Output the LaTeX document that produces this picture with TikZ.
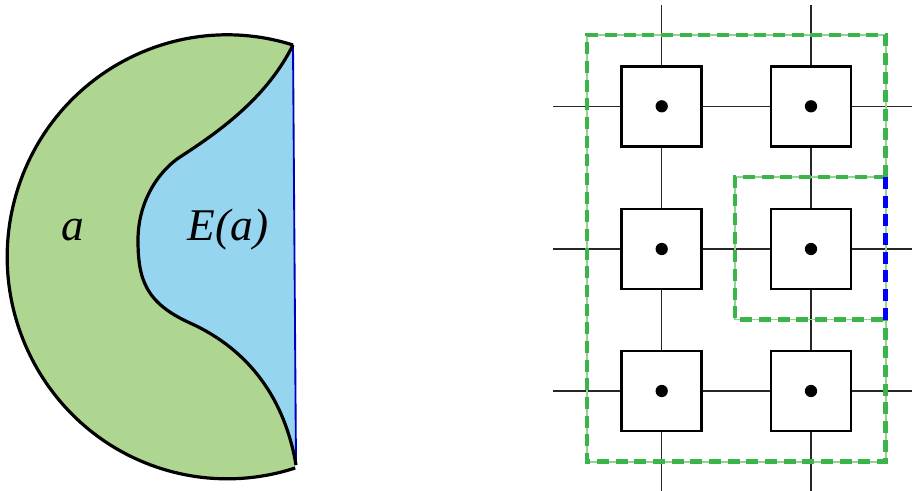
\documentclass[tikz,border=0pt]{standalone}
\usepackage{fontspec}
\setmainfont{Liberation Serif}
\definecolor{regiongreen}{RGB}{174,214,144}
\definecolor{regionblue}{RGB}{149,213,239}
\definecolor{dashgreen}{RGB}{59,181,74}
\definecolor{lightgreen}{RGB}{150,210,150}
\definecolor{chordblue}{RGB}{0,0,190}
\definecolor{dashblue}{RGB}{0,0,255}
\tikzset{
  cell/.style={draw=black, line width=2pt, fill=white, minimum size=60pt, inner sep=0pt},
  gridline/.style={draw=black!85, line width=0.9pt},
  dotmark/.style={fill=black},
  outline/.style={draw=black, line width=2.4pt},
  zonebase/.style={draw=lightgreen, line width=1.2pt},
  zonedash/.style={draw=dashgreen, line width=3.4pt, dash pattern=on 9pt off 5pt},
  bluedash/.style={draw=dashblue, line width=3.4pt, dash pattern=on 9pt off 5pt},
  lbl/.style={font=\fontsize{34}{40}\selectfont\itshape, inner sep=0pt}
}
\begin{document}
\begin{tikzpicture}[x=0.75pt,y=-0.75pt]
\useasboundingbox (0,0) rectangle (912,491);

% ---------- left figure ----------
\coordinate (T) at (293,45);
\coordinate (B) at (296,465);
\def\innercurve{(T) .. controls (268,95) and (225,128) .. (180,157)
  .. controls (160,170) and (138,200) .. (138,240)
  .. controls (138,280) and (146,303) .. (190,323)
  .. controls (250,350) and (285,400) .. (B)}
% green disc segment
\fill[regiongreen] (T) arc[start angle=-72.6, end angle=-288, x radius=220, y radius=222] -- cycle;
% blue region
\fill[regionblue] \innercurve -- cycle;
% outlines
\draw[chordblue, line width=1.4pt] (T) -- (B);
\draw[outline] (T) arc[start angle=-72.6, end angle=-288, x radius=220, y radius=222];
\draw[outline] \innercurve;

\node[lbl] (la) at (73,230) {a};
\node[lbl] (lea) at (228,230) {E(a)};

% ---------- right figure ----------
\node[cell] (c11) at (661.7,106.3) {};
\node[cell] (c12) at (811,106.3) {};
\node[cell] (c21) at (661.7,249) {};
\node[cell] (c22) at (811,249) {};
\node[cell] (c31) at (661.7,391) {};
\node[cell] (c32) at (811,391) {};

\foreach \n in {c11,c12,c21,c22,c31,c32}
  \fill[dotmark] (\n.center) circle (4.6pt);

% free ends
\coordinate (w1) at (553,106.3);
\coordinate (w2) at (553,249);
\coordinate (w3) at (553,391);
\coordinate (e1) at (912,106.3);
\coordinate (e2) at (912,249);
\coordinate (e3) at (912,391);
\coordinate (n1) at (661.7,5);
\coordinate (n2) at (811,5);
\coordinate (s1) at (661.7,491);
\coordinate (s2) at (811,491);

\draw[gridline] (w1) -- (c11) (c11) -- (c12) (c12) -- (e1);
\draw[gridline] (w2) -- (c21) (c21) -- (c22) (c22) -- (e2);
\draw[gridline] (w3) -- (c31) (c31) -- (c32) (c32) -- (e3);
\draw[gridline] (n1) -- (c11) (c11) -- (c21) (c21) -- (c31) (c31) -- (s1);
\draw[gridline] (n2) -- (c12) (c12) -- (c22) (c22) -- (c32) (c32) -- (s2);

% large zone
\coordinate (Z1) at (587,35);
\coordinate (Z2) at (885.7,35);
\coordinate (Z3) at (885.7,461.7);
\coordinate (Z4) at (587,461.7);
\coordinate (Za) at (885.7,177);
\coordinate (Zb) at (885.7,319.5);
\coordinate (Y1) at (735,177);
\coordinate (Y4) at (735,319.5);

\draw[zonebase] (Z1) rectangle (Z3);
\draw[zonebase] (Y1) rectangle (Zb);
\draw[zonedash] (Za) -- (Z2) -- (Z1) -- (Z4) -- (Z3) -- (Zb);
\draw[zonedash] (Za) -- (Y1) -- (Y4) -- (Zb);
\draw[bluedash] (Za) -- (Zb);
\end{tikzpicture}
\end{document}
